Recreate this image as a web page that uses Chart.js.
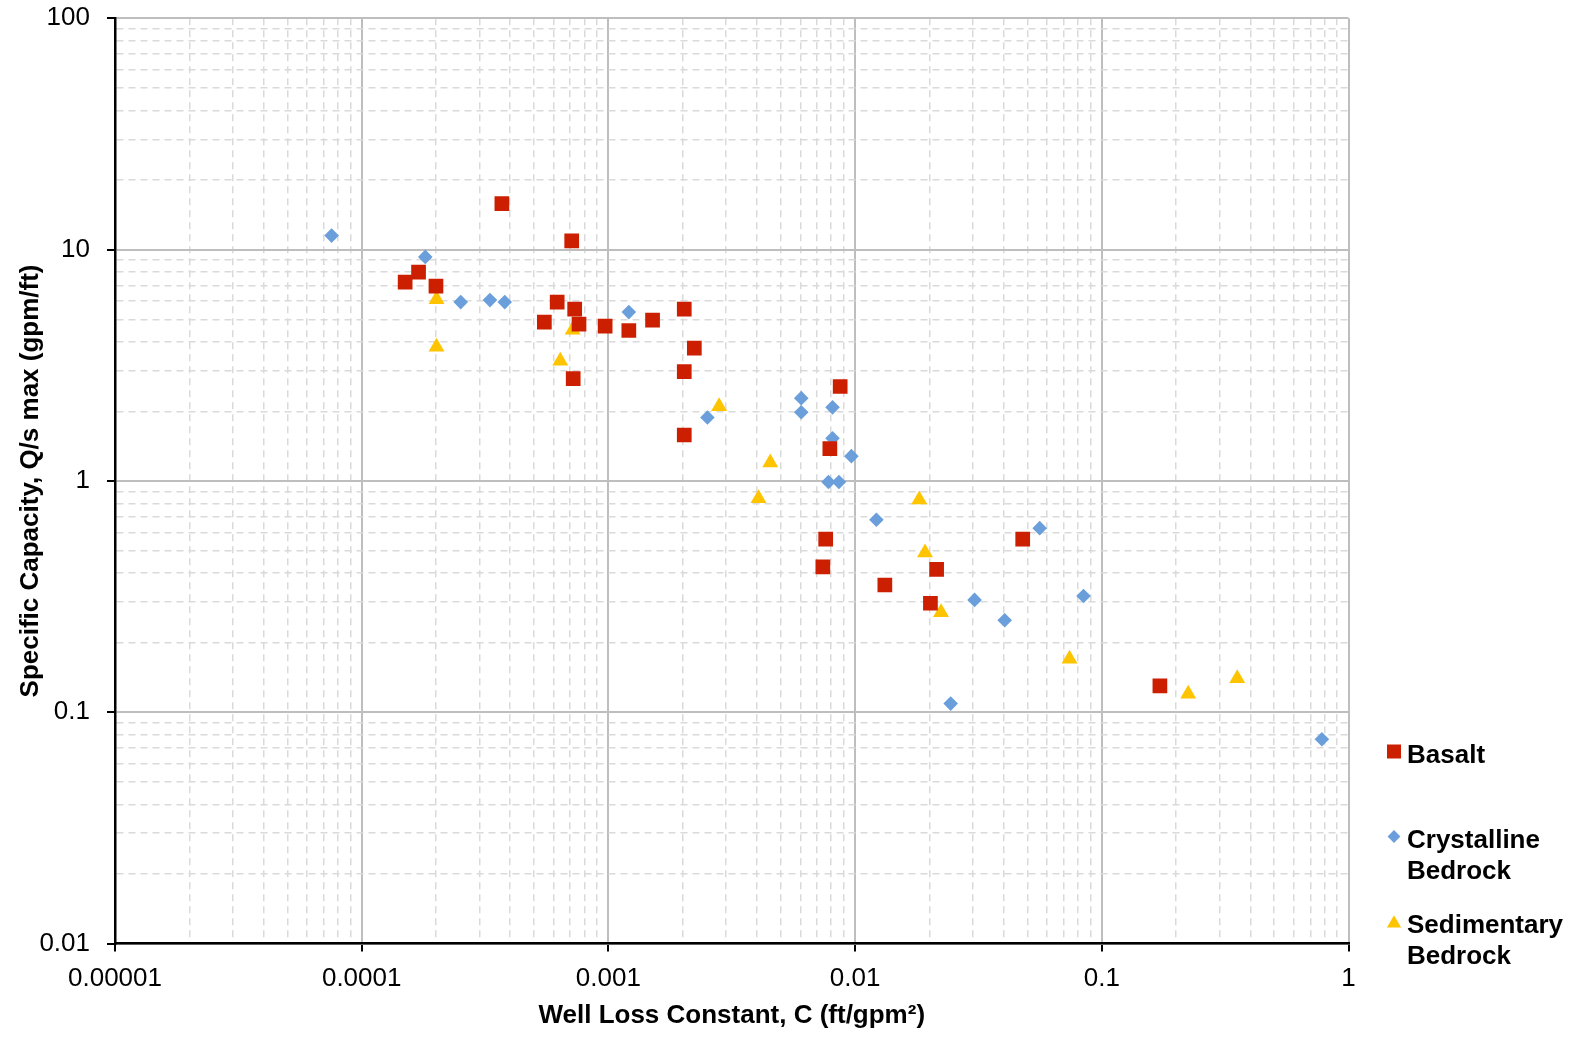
<!DOCTYPE html>
<html>
<head>
<meta charset="utf-8">
<title>Specific Capacity vs Well Loss Constant</title>
<script src="https://cdn.jsdelivr.net/npm/chart.js@4.4.1/dist/chart.umd.min.js"></script>
<style>
  html, body { margin: 0; padding: 0; background: #fff; overflow: hidden; }
  #wrap { position: relative; width: 1574px; height: 1046px; }
</style>
</head>
<body>
<div id="wrap"><canvas id="wellChart"></canvas></div>
<script>
// Series names (legend)
const seriesNames = ['Basalt', 'Crystalline\nBedrock', 'Sedimentary\nBedrock'];

// Basalt
const basaltX = [0.00037, 0.00071, 0.00017, 0.00015, 0.0002, 0.00062, 0.00073, 0.00076, 0.00055, 0.00097,
                 0.00121, 0.00151, 0.00203, 0.00223, 0.00203, 0.00072, 0.00203, 0.0087, 0.0079, 0.0076,
                 0.0074, 0.0132, 0.0214, 0.0202, 0.0478, 0.172];
const basaltY = [15.8, 10.9, 8.0, 7.24, 6.96, 5.93, 5.53, 4.76, 4.86, 4.67,
                 4.47, 4.96, 5.53, 3.75, 2.97, 2.77, 1.58, 2.56, 1.38, 0.56,
                 0.425, 0.355, 0.415, 0.296, 0.56, 0.13];

// Crystalline Bedrock
const crystallineX = [0.0000755, 0.000181, 0.000252, 0.000331, 0.00038, 0.00121, 0.00252, 0.00605, 0.00605, 0.0081,
                      0.0081, 0.00966, 0.0078, 0.0086, 0.0122, 0.056, 0.0305, 0.0404, 0.0843, 0.0244, 0.78];
const crystallineY = [11.5, 9.3, 5.93, 6.05, 5.93, 5.37, 1.88, 2.28, 1.98, 2.08,
                      1.53, 1.28, 0.99, 0.99, 0.68, 0.625, 0.306, 0.25, 0.318, 0.109, 0.0765];

// Sedimentary Bedrock
const sedimentaryX = [0.000201, 0.000201, 0.000716, 0.000638, 0.00281, 0.00453, 0.00406, 0.0182, 0.0192, 0.0223,
                      0.074, 0.224, 0.354];
const sedimentaryY = [6.1, 3.8, 4.5, 3.3, 2.1, 1.2, 0.84, 0.83, 0.49, 0.27,
                      0.17, 0.12, 0.14];

// Axis decades and tick labels
const xDecades = [0.00001, 0.0001, 0.001, 0.01, 0.1, 1];
const xTickLabels = ['0.00001', '0.0001', '0.001', '0.01', '0.1', '1'];
const yDecades = [0.01, 0.1, 1, 10, 100];
const yTickLabels = ['0.01', '0.1', '1', '10', '100'];

const basaltColor = '#CC1F00';
const crystallineColor = '#6A9FDB';
const sedimentaryColor = '#FFC400';
const majorGrid = '#BEBEBE';
const minorGrid = '#DADADA';
const fontFamily = '"Liberation Sans", Arial, Helvetica, sans-serif';

const toPoints = (xs, ys) => xs.map((x, i) => ({ x: x, y: ys[i] }));

const isDecade = v => Math.abs(Math.log10(v) - Math.round(Math.log10(v))) < 1e-6;

// full log grid: decades plus 2..9 in every decade
function logTicks(decades) {
    const out = [];
    decades.forEach((d, i) => {
        out.push({ value: d });
        if (i < decades.length - 1) {
            for (let k = 2; k <= 9; k++) out.push({ value: d * k });
        }
    });
    return out;
}

function labelFor(value, decades, labels) {
    const i = decades.findIndex(d => Math.abs(Math.log10(d) - Math.log10(value)) < 1e-6);
    return i >= 0 ? labels[i] : '';
}

const tickValue = ctx => (ctx.tick ? ctx.tick.value : null);

// legend drawn at the right, multi-line labels
const sideLegend = {
    id: 'sideLegend',
    afterDraw(chart) {
        const ctx = chart.ctx;
        const markerRadius = [9.9, 6.4, 8.2];
        ctx.save();
        ctx.font = 'bold 26px ' + fontFamily;
        ctx.fillStyle = '#000';
        ctx.textBaseline = 'alphabetic';
        ctx.textAlign = 'left';
        chart.data.datasets.forEach((ds, i) => {
            const base = 763 + i * 85;
            ctx.save();
            ctx.fillStyle = ds.backgroundColor;
            Chart.helpers.drawPoint(ctx, {
                pointStyle: ds.pointStyle, radius: markerRadius[i], rotation: 0, borderWidth: 0
            }, 1394, base - (i === 2 ? 9.5 : 11.5));
            ctx.restore();
            ds.label.split('\n').forEach((line, j) => {
                ctx.fillText(line, 1407, base + j * 31);
            });
        });
        ctx.restore();
    }
};

new Chart(document.getElementById('wellChart'), {
    type: 'scatter',
    data: {
        datasets: [
            {
                label: seriesNames[0],
                data: toPoints(basaltX, basaltY),
                pointStyle: 'rect',
                pointRadius: 10.4,
                backgroundColor: basaltColor,
                borderWidth: 0
            },
            {
                label: seriesNames[1],
                data: toPoints(crystallineX, crystallineY),
                pointStyle: 'rectRot',
                pointRadius: 7.3,
                backgroundColor: crystallineColor,
                borderWidth: 0
            },
            {
                label: seriesNames[2],
                data: toPoints(sedimentaryX, sedimentaryY),
                pointStyle: 'triangle',
                pointRadius: 9.2,
                backgroundColor: sedimentaryColor,
                borderWidth: 0
            }
        ]
    },
    options: {
        responsive: true,
        maintainAspectRatio: false,
        animation: false,
        events: [],
        layout: {
            padding: { top: 18.3, right: 225.5, bottom: 0, left: 0 }
        },
        plugins: {
            legend: { display: false },
            tooltip: { enabled: false }
        },
        scales: {
            x: {
                type: 'logarithmic',
                min: 0.00001,
                max: 1,
                afterBuildTicks: scale => { scale.ticks = logTicks(xDecades); },
                afterFit: scale => {
                    scale.height = 102.4;
                    scale.paddingLeft = 0;
                    scale.paddingRight = 0;
                },
                grid: {
                    color: ctx => (isDecade(tickValue(ctx)) ? majorGrid : minorGrid),
                    lineWidth: ctx => (isDecade(tickValue(ctx)) ? 2 : 1.5),
                    tickColor: ctx => (isDecade(tickValue(ctx)) ? '#000' : 'rgba(0,0,0,0)'),
                    tickLength: 8,
                    tickWidth: 2
                },
                border: {
                    color: '#000',
                    width: 2.5,
                    dash: ctx => (ctx.tick && !isDecade(ctx.tick.value) ? [7, 5] : [])
                },
                ticks: {
                    autoSkip: false,
                    maxRotation: 0,
                    padding: 12,
                    color: '#000',
                    font: { family: fontFamily, size: 26 },
                    callback: value => labelFor(value, xDecades, xTickLabels)
                },
                title: {
                    display: true,
                    text: 'Well Loss Constant, C (ft/gpm\u00B2)',
                    color: '#000',
                    font: { family: fontFamily, size: 26, weight: 'bold' },
                    padding: { top: 0, bottom: 15 }
                }
            },
            y: {
                type: 'logarithmic',
                min: 0.01,
                max: 100,
                afterBuildTicks: scale => { scale.ticks = logTicks(yDecades); },
                afterFit: scale => {
                    scale.width = 115;
                    scale.paddingTop = 0;
                    scale.paddingBottom = 0;
                },
                grid: {
                    color: ctx => (isDecade(tickValue(ctx)) ? majorGrid : minorGrid),
                    lineWidth: ctx => (isDecade(tickValue(ctx)) ? 2 : 1.5),
                    tickColor: ctx => (isDecade(tickValue(ctx)) ? '#000' : 'rgba(0,0,0,0)'),
                    tickLength: 8,
                    tickWidth: 2
                },
                border: {
                    color: '#000',
                    width: 2.5,
                    dash: ctx => (ctx.tick && !isDecade(ctx.tick.value) ? [7, 5] : [])
                },
                ticks: {
                    autoSkip: false,
                    padding: 17,
                    color: '#000',
                    font: { family: fontFamily, size: 26 },
                    callback: value => labelFor(value, yDecades, yTickLabels)
                },
                title: {
                    display: true,
                    text: 'Specific Capacity, Q/s max (gpm/ft)',
                    color: '#000',
                    font: { family: fontFamily, size: 26, weight: 'bold' },
                    padding: { top: 15, bottom: 0 }
                }
            }
        }
    },
    plugins: [sideLegend]
});
</script>
</body>
</html>
